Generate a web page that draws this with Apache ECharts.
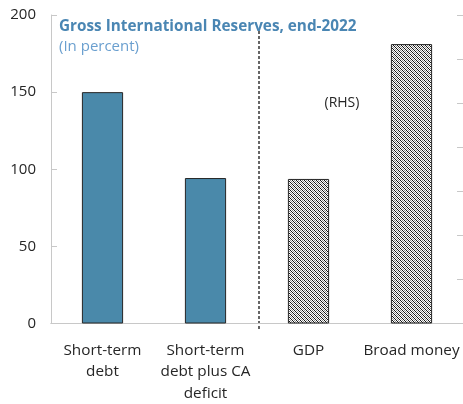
<!DOCTYPE html>
<html>
<head>
<meta charset="utf-8">
<script src="https://cdn.jsdelivr.net/npm/echarts@6/dist/echarts.min.js"></script>
<style>html,body{margin:0;padding:0;background:#fff}#c{width:463px;height:404px}</style>
</head>
<body>
<div id="c"></div>
<script>
var categories = ['Short-term\ndebt', 'Short-term\ndebt plus CA\ndeficit', 'GDP', 'Broad money'];
var lhsValues = [150, 94.3, null, null];
var rhsValues = [null, null, 16.4, 31.7];
var leftTicks = [0, 50, 100, 150, 200];

var pc = document.createElement('canvas');
pc.width = 4; pc.height = 4;
var g = pc.getContext('2d');
g.fillStyle = '#ffffff'; g.fillRect(0, 0, 4, 4);
for (var i = 0; i < 4; i++) {
  g.fillStyle = '#141414'; g.fillRect(i, i, 1, 1);
  g.fillStyle = '#8c8c8c'; g.fillRect(i, (i + 2) % 4, 1, 1);
}

var chart = echarts.init(document.getElementById('c'), null, {renderer: 'canvas'});
var font = 'Open Sans';
chart.setOption({
  animation: false,
  textStyle: {fontFamily: font},
  title: {
    text: 'Gross International Reserves, end-2022',
    subtext: '(In percent)',
    left: 54, top: 14, itemGap: 5,
    textStyle: {fontFamily: font, fontSize: 15.3, fontWeight: 'bold', color: '#4a86b3'},
    subtextStyle: {fontFamily: font, fontSize: 15, color: '#6a9fcf'}
  },
  grid: {left: 51, right: 0, top: 15, bottom: 78},
  xAxis: [{
    type: 'category', data: categories,
    axisLine: {lineStyle: {color: '#c8c8c8', width: 1}},
    axisTick: {show: false},
    axisLabel: {fontFamily: font, fontSize: 15.3, color: '#262626', margin: 16, lineHeight: 21.5, interval: 0}
  }, {
    type: 'category', data: categories, position: 'top',
    axisLine: {show: true, lineStyle: {color: '#c8c8c8', width: 1}},
    axisTick: {show: false}, axisLabel: {show: false}
  }],
  yAxis: [{
    type: 'value', min: 0, max: 200, interval: 50,
    axisLine: {show: true, lineStyle: {color: '#c8c8c8'}},
    axisTick: {show: true, inside: true, length: 6, lineStyle: {color: '#c8c8c8'}},
    splitLine: {show: false},
    axisLabel: {fontFamily: font, fontSize: 15, color: '#262626', margin: 15,
      formatter: function (v) { return leftTicks.indexOf(v) >= 0 ? String(v) : ''; }}
  }, {
    type: 'value', min: 0, max: 35, interval: 5, position: 'right',
    axisLine: {show: false},
    axisTick: {show: true, inside: true, length: 6, lineStyle: {color: '#c8c8c8'}},
    splitLine: {show: false},
    axisLabel: {show: false}
  }],
  series: [{
    type: 'bar', data: lhsValues, yAxisIndex: 0, barWidth: '40%', barGap: '-100%',
    itemStyle: {color: '#4a89aa', borderColor: '#262626', borderWidth: 1}
  }, {
    type: 'bar', data: rhsValues, yAxisIndex: 1, barWidth: '40%', barGap: '-100%',
    itemStyle: {color: {image: pc, repeat: 'repeat'}, borderColor: '#262626', borderWidth: 1}
  }]
});

var p1 = chart.convertToPixel({xAxisIndex: 0}, categories[1]);
var p2 = chart.convertToPixel({xAxisIndex: 0}, categories[2]);
var sepX = (p1 + p2) / 2 + 2;
var yTop = chart.convertToPixel({yAxisIndex: 0}, 200);
var yBot = chart.convertToPixel({yAxisIndex: 0}, 0);
var rhsY = chart.convertToPixel({yAxisIndex: 1}, 25);
var gm = chart.convertToPixel({xAxisIndex: 0}, categories[2]);
chart.setOption({
  graphic: [{
    type: 'line', silent: true,
    shape: {x1: sepX, y1: yTop + 16, x2: sepX, y2: yBot + 6},
    style: {stroke: '#333333', lineWidth: 1.5, lineDash: [3, 2]}
  }, {
    type: 'text', silent: true,
    x: gm + 16, y: rhsY,
    style: {text: '(RHS)', fontFamily: font, fontSize: 14, fill: '#262626', verticalAlign: 'middle'}
  }]
});
</script>
</body>
</html>
